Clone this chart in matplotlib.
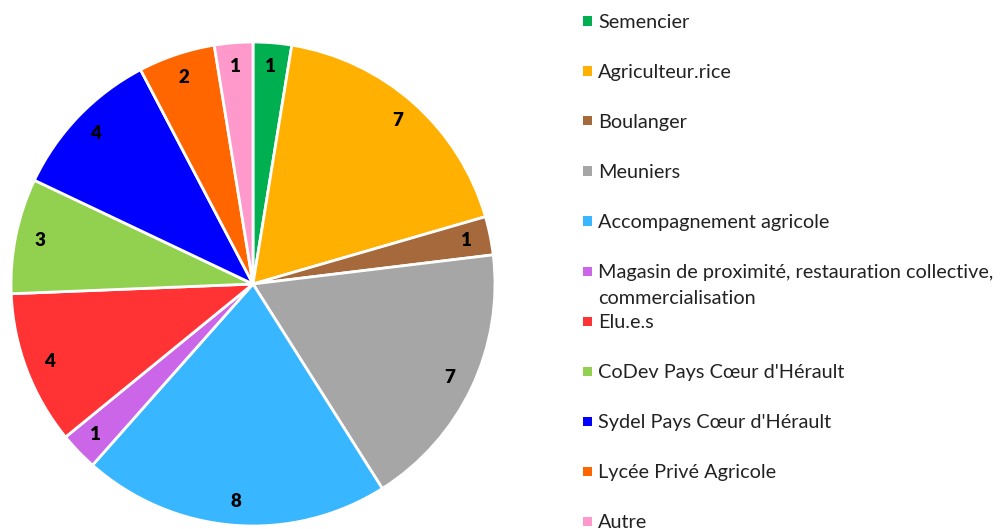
import matplotlib.pyplot as plt
from matplotlib.patches import Rectangle

# Données du graphique
categories = ['Semencier', 'Agriculteur.rice', 'Boulanger', 'Meuniers',
              'Accompagnement agricole',
              'Magasin de proximité, restauration collective,\ncommercialisation',
              'Elu.e.s', "CoDev Pays Cœur d'Hérault", "Sydel Pays Cœur d'Hérault",
              'Lycée Privé Agricole', 'Autre']
values = [1, 7, 1, 7, 8, 1, 4, 3, 4, 2, 1]
colors = ['#00B050', '#FFB000', '#A5693C', '#A6A6A6', '#38B6FF', '#CC66E8',
          '#FF3333', '#92D050', '#0000FF', '#FF6600', '#FF99CC']

W, H = 1003, 529
fig = plt.figure(figsize=(W / 100, H / 100), dpi=100)

# Camembert
ax = fig.add_axes([11 / W, 1 - 526 / H, 484 / W, 484 / H])
wedges, texts = ax.pie(values, colors=colors, startangle=90, counterclock=False,
                       labels=[str(v) for v in values], labeldistance=0.9,
                       wedgeprops=dict(edgecolor='white', linewidth=2))
for t in texts:
    t.set_ha('center')
    t.set_va('center')
    t.set_fontsize(13.5)
    t.set_fontweight('heavy')
    t.set_fontfamily('Lato')
ax.set_xlim(-1, 1)
ax.set_ylim(-1, 1)
ax.set_aspect('equal')

# Légende manuelle
for i, (lab, col) in enumerate(zip(categories, colors)):
    yc = 21 + 50 * i
    fig.patches.append(Rectangle((583 / W, 1 - (yc + 4.5) / H), 9 / W, 9 / H,
                                 facecolor=col, edgecolor='none',
                                 transform=fig.transFigure))
    for j, line in enumerate(lab.split('\n')):
        fig.text(598 / W, 1 - (yc + 7 + 26 * j) / H, line, ha='left',
                 va='baseline', fontsize=14.3, family='Lato', color='#222222')

fig.savefig('out.png', dpi=100)
